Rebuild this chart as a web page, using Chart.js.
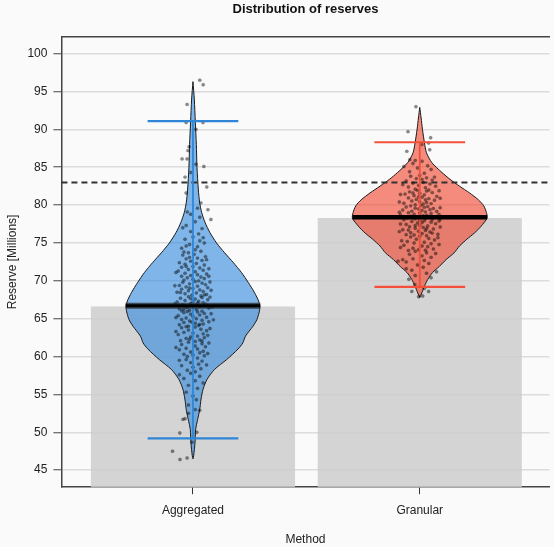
<!DOCTYPE html>
<html>
<head>
<meta charset="utf-8">
<script src="https://cdn.jsdelivr.net/npm/chart.js@4/dist/chart.umd.min.js"></script>
<style>
  html, body { margin: 0; padding: 0; background: #fafafa; }
  #wrap { width: 554px; height: 547px; position: relative; }
</style>
</head>
<body>
<div id="wrap"><canvas id="chart"></canvas></div>
<script>
'use strict';

// ── Data ──────────────────────────────────────────────────────────────────────
const methods    = ['Aggregated', 'Granular'];
const barMeans   = [66.6, 78.3];
const meanLines  = [66.7, 78.4];
const lowerLimit = [49.2, 69.2];
const upperLimit = [91.1, 88.3];
const refLine    = 83.0;
const yTicks     = [45, 50, 55, 60, 65, 70, 75, 80, 85, 90, 95, 100];

// violin outlines: level (Millions) and relative density (1 = widest)
const aggLevels  = [46.5, 46.9, 48.6, 50.4, 51.7, 53.0, 54.4, 55.7, 57.0, 58.3, 59.6, 61.0, 61.8, 62.7,
                    64.0, 64.9, 66.2, 67.2, 68.5, 69.8, 71.1, 72.4, 73.7, 75.0, 76.4, 77.7, 79.0, 80.3,
                    82.0, 85.0, 88.0, 91.0, 94.0, 96.3];
const aggDensity = [0, 0.01, 0.03, 0.04, 0.07, 0.10, 0.12, 0.15, 0.21, 0.32, 0.50, 0.67, 0.74, 0.78,
                    0.89, 0.95, 0.99, 0.98, 0.91, 0.82, 0.72, 0.60, 0.47, 0.35, 0.25, 0.18, 0.13, 0.10,
                    0.08, 0.06, 0.05, 0.035, 0.02, 0];
const granLevels  = [67.8, 68.4, 69.3, 70.2, 71.1, 71.9, 72.8, 73.7, 74.6, 75.5, 76.3, 77.2, 78.3, 79.0,
                     79.9, 80.7, 81.6, 82.5, 83.4, 84.3, 85.6, 86.9, 88.2, 90.0, 91.5, 92.9];
const granDensity = [0, 0.03, 0.07, 0.12, 0.19, 0.29, 0.39, 0.51, 0.59, 0.70, 0.81, 0.91, 1.0, 0.99,
                     0.95, 0.87, 0.74, 0.59, 0.45, 0.33, 0.18, 0.10, 0.07, 0.04, 0.02, 0];

// jittered observations: [value, horizontal jitter in category units]
const aggPoints = [
  [96.5, 0.03], [95.9, 0.045], [93.3, -0.026], [90.9, 0.044], [90.9, -0.03], [90.0, 0.013], [87.7, -0.017],
  [87.2, -0.022], [86.1, -0.048], [86.1, -0.026], [85.4, 0.013], [85.1, 0.048], [84.3, -0.009], [83.7, -0.035],
  [82.4, 0.061], [81.6, -0.03], [80.3, 0.035], [79.4, 0.066], [78.1, 0.079],
  [79.6, 0.02], [78.8, -0.01], [78.4, 0.03], [79.1, -0.025],
  [77.8, 0.01], [77.3, -0.03], [76.9, 0.04], [76.5, -0.01], [76.2, 0.025], [77.0, -0.045],
  [75.8, 0.0], [75.5, -0.035], [75.3, 0.03], [75.0, 0.05], [74.8, -0.015], [74.5, 0.02], [74.3, -0.05],
  [74.1, 0.01], [75.7, 0.045], [74.6, -0.03],
  [73.9, 0.035], [73.7, -0.02], [73.5, 0.005], [73.4, -0.045], [73.2, 0.055], [73.0, 0.02], [72.9, -0.03],
  [72.7, 0.04], [72.6, -0.01], [72.4, -0.06], [72.3, 0.015], [72.1, 0.05], [73.8, -0.04], [73.1, -0.015],
  [72.8, 0.06], [72.2, -0.035],
  [71.9, 0.0], [71.8, -0.05], [71.7, 0.03], [71.5, -0.02], [71.4, 0.045], [71.3, -0.065], [71.2, 0.01],
  [71.0, -0.035], [70.9, 0.06], [70.8, 0.02], [70.7, -0.01], [70.6, -0.05], [70.5, 0.035], [70.4, -0.025],
  [70.3, 0.05], [70.2, 0.0], [70.1, -0.04], [70.0, 0.025], [71.6, 0.07], [71.1, -0.075], [70.6, 0.07], [71.9, -0.03],
  [69.9, 0.01], [69.8, -0.045], [69.7, 0.04], [69.6, -0.015], [69.5, 0.055], [69.4, -0.06], [69.3, 0.02],
  [69.2, -0.03], [69.1, 0.065], [69.0, 0.0], [68.9, -0.05], [68.8, 0.03], [68.7, -0.02], [68.6, 0.045],
  [68.5, -0.07], [68.4, 0.015], [68.3, -0.035], [68.2, 0.06], [68.1, -0.005], [68.0, 0.035], [69.85, 0.075],
  [69.35, -0.08], [68.75, 0.08], [68.45, -0.055], [69.05, -0.015], [68.15, 0.05],
  [67.9, -0.02], [67.8, 0.04], [67.7, -0.055], [67.6, 0.01], [67.5, 0.065], [67.4, -0.035], [67.3, 0.025],
  [67.2, -0.07], [67.1, 0.045], [67.0, -0.01], [66.9, 0.055], [66.8, -0.045], [66.7, 0.0], [66.6, 0.03],
  [66.5, -0.025], [66.4, 0.07], [66.3, -0.06], [66.2, 0.015], [66.1, -0.015], [66.0, 0.04], [67.85, 0.075],
  [67.25, 0.0], [66.95, -0.08], [66.55, 0.085], [66.25, -0.04], [67.65, -0.01], [67.05, 0.02], [66.05, -0.05],
  [65.9, 0.02], [65.8, -0.04], [65.7, 0.05], [65.6, -0.01], [65.5, 0.03], [65.4, -0.065], [65.3, 0.0],
  [65.2, 0.06], [65.1, -0.03], [65.0, 0.015], [64.9, -0.05], [64.8, 0.04], [64.7, -0.015], [64.6, 0.07],
  [64.5, -0.04], [64.4, 0.01], [64.3, 0.045], [64.2, -0.06], [64.1, 0.025], [64.0, -0.02], [65.65, 0.08],
  [65.15, -0.075], [64.85, 0.09], [64.55, -0.005], [64.25, 0.03], [65.95, -0.025],
  [63.9, 0.01], [63.8, -0.05], [63.6, 0.035], [63.5, -0.02], [63.4, 0.06], [63.2, -0.04], [63.1, 0.0],
  [63.0, 0.045], [62.9, -0.065], [62.7, 0.02], [62.6, -0.01], [62.5, 0.05], [62.4, -0.03], [62.2, 0.03],
  [62.1, -0.055], [62.0, 0.01], [63.7, 0.075], [63.3, -0.075], [62.8, 0.065], [62.3, -0.015], [63.95, -0.03],
  [62.05, 0.04],
  [61.9, -0.02], [61.7, 0.04], [61.6, -0.05], [61.4, 0.01], [61.3, 0.055], [61.1, -0.03], [61.0, 0.02],
  [60.9, -0.06], [60.7, 0.045], [60.6, -0.01], [60.5, 0.03], [60.3, -0.04], [60.2, 0.0], [60.1, 0.05],
  [61.8, 0.07], [61.2, -0.075], [60.4, 0.065], [60.0, -0.025],
  [59.8, 0.02], [59.6, -0.03], [59.4, 0.04], [59.2, -0.01], [59.0, 0.025], [58.8, -0.05], [58.6, 0.0],
  [58.4, 0.035], [58.2, -0.025], [58.0, 0.01], [59.5, -0.06], [58.9, 0.06],
  [57.8, -0.01], [57.4, 0.03], [57.1, -0.04], [56.8, 0.01], [56.5, 0.045], [56.2, -0.02], [57.6, -0.06],
  [55.8, 0.02], [55.3, -0.03], [54.8, 0.0], [54.3, 0.015], [53.6, -0.02], [52.9, 0.03], [53.0, 0.01], [52.5, -0.02],
  [51.8, -0.035], [51.7, -0.044], [49.9, -0.058], [50.0, 0.017], [48.7, -0.004], [47.5, -0.09], [46.4, -0.057],
  [46.6, -0.026]
];
const granPoints = [
  [93.0, -0.017], [89.7, -0.052], [88.9, 0.048], [88.2, 0.039], [87.3, 0.044], [87.1, -0.057], [86.0, -0.044],
  [85.1, -0.07], [88.0, 0.009], [70.2, -0.048], [68.6, -0.035], [68.6, 0.039], [68.0, 0.013], [71.2, 0.074],
  [72.6, -0.096], [69.5, -0.022], [67.9, -0.005], [69.0, 0.02],
  [85.8, 0.01], [85.5, -0.03], [85.2, 0.035], [84.9, -0.01], [84.7, 0.05], [84.4, -0.045], [84.2, 0.02], [85.9, -0.02],
  [83.9, 0.0], [83.8, -0.04], [83.6, 0.03], [83.5, -0.015], [83.3, 0.055], [83.2, -0.06], [83.0, 0.015],
  [82.9, -0.03], [82.8, 0.045], [82.6, -0.005], [82.5, 0.07], [82.4, -0.05], [82.3, 0.025], [82.1, -0.02],
  [82.0, 0.04], [83.4, 0.01], [82.7, -0.075], [83.7, 0.065],
  [81.95, -0.01], [81.85, 0.03], [81.75, -0.045], [81.65, 0.055], [81.55, 0.0], [81.45, -0.065], [81.35, 0.02],
  [81.25, -0.025], [81.15, 0.075], [81.05, 0.01], [80.95, -0.05], [80.85, 0.04], [80.75, -0.015], [80.65, 0.065],
  [80.55, -0.035], [80.45, 0.0], [80.35, 0.03], [80.25, -0.07], [80.15, 0.015], [80.05, -0.02], [81.9, 0.085],
  [81.4, -0.085], [80.9, 0.09], [80.4, -0.09], [81.1, -0.005], [80.7, 0.025], [80.2, 0.05], [81.6, -0.03],
  [79.95, 0.005], [79.9, -0.04], [79.8, 0.035], [79.75, -0.06], [79.7, 0.02], [79.6, -0.02], [79.55, 0.06],
  [79.5, -0.005], [79.4, 0.045], [79.35, -0.075], [79.3, 0.01], [79.2, -0.035], [79.15, 0.075], [79.1, 0.025],
  [79.0, -0.05], [78.95, 0.0], [78.9, 0.05], [78.8, -0.025], [78.75, 0.085], [78.7, -0.085], [78.6, 0.015],
  [78.55, -0.04], [78.5, 0.04], [78.45, -0.01], [78.4, 0.065], [78.3, -0.055], [78.25, 0.025], [78.2, -0.02],
  [78.1, 0.055], [78.05, -0.07], [78.0, 0.0], [79.65, 0.09], [79.05, -0.09], [78.65, 0.03], [78.35, -0.03],
  [78.15, 0.09],
  [77.95, 0.02], [77.85, -0.035], [77.75, 0.05], [77.65, -0.01], [77.55, 0.07], [77.45, -0.06], [77.35, 0.0],
  [77.25, 0.035], [77.15, -0.045], [77.05, 0.015], [76.95, -0.02], [76.85, 0.06], [76.75, -0.075], [76.65, 0.025],
  [76.55, -0.005], [76.45, 0.045], [76.35, -0.04], [76.25, 0.01], [76.15, 0.08], [76.05, -0.025], [77.9, 0.085],
  [77.5, -0.085], [77.1, 0.09], [76.7, -0.05], [76.3, 0.055], [77.3, -0.02], [76.9, 0.03], [76.1, -0.06],
  [77.7, 0.01], [76.5, -0.09],
  [75.9, 0.0], [75.8, -0.04], [75.6, 0.04], [75.5, -0.015], [75.4, 0.065], [75.2, -0.055], [75.1, 0.02],
  [75.0, -0.025], [74.9, 0.05], [74.7, -0.07], [74.6, 0.01], [74.5, 0.035], [74.3, -0.03], [74.2, 0.06],
  [74.1, -0.005], [74.0, -0.05], [75.7, 0.08], [75.3, -0.08], [74.8, 0.085], [74.4, -0.085], [75.95, 0.03],
  [74.05, 0.025],
  [73.9, -0.02], [73.7, 0.03], [73.5, -0.045], [73.3, 0.01], [73.1, 0.05], [72.9, -0.03], [72.7, 0.02],
  [72.5, -0.06], [72.3, 0.04], [72.1, -0.01], [73.6, 0.07], [72.8, -0.075],
  [71.8, 0.015], [71.4, -0.035], [71.0, 0.03], [70.7, -0.02], [70.4, 0.05], [71.6, -0.06]
];

// ── Styling ───────────────────────────────────────────────────────────────────
const X_MIN = -0.58, X_MAX = 1.572;
const Y_MIN = 42.75, Y_MAX = 102.25;
const VIOLIN_HALF = 0.297;   // widest violin half-width, category units
const CAP_HALF    = 0.2;
const FONT        = '"Liberation Sans", Arial, Helvetica, sans-serif';

const groupStyle = [
  { fill: 'rgba(45, 135, 220, 0.6)', bar: '#2f86d6', halo: 'rgba(40,40,40,0.75)' },
  { fill: 'rgba(240, 65, 40, 0.6)',  bar: '#f2503a', halo: null }
];

// ── Datasets ──────────────────────────────────────────────────────────────────
function violinShape(center, levels, density) {
  const left  = levels.map((v, i) => ({ x: center - VIOLIN_HALF * density[i], y: v }));
  const right = levels.map((v, i) => ({ x: center + VIOLIN_HALF * density[i], y: v })).reverse();
  return left.concat(right);
}

function lineSet(data, color, width, order, extra) {
  return Object.assign({
    type: 'scatter', data, showLine: true, borderColor: color, borderWidth: width,
    pointRadius: 0, fill: false, order, tension: 0
  }, extra || {});
}

const datasets = [];

datasets.push({
  type: 'bar',
  data: methods.map((m, i) => ({ x: i, y: barMeans[i] })),
  backgroundColor: 'rgba(205, 205, 205, 0.85)',
  barPercentage: 0.9, categoryPercentage: 1.0,
  order: 10
});

const profiles = [[aggLevels, aggDensity], [granLevels, granDensity]];
const points   = [aggPoints, granPoints];

profiles.forEach(([lv, dn], i) => {
  datasets.push(lineSet(violinShape(i, lv, dn), '#1a1a1a', 1, 9, {
    fill: 'shape', backgroundColor: groupStyle[i].fill, tension: 0.25
  }));
});

datasets.push(lineSet([{ x: X_MIN, y: refLine }, { x: X_MAX, y: refLine }], '#333', 2, 8,
  { borderDash: [6, 4] }));

points.forEach((pts, i) => {
  datasets.push({
    type: 'scatter',
    data: pts.map(([v, j]) => ({ x: i + j, y: v })),
    pointRadius: 1.7, pointBackgroundColor: 'rgba(0,0,0,0.45)',
    pointBorderColor: 'rgba(0,0,0,0.2)', pointBorderWidth: 0.5,
    order: 7
  });
});

methods.forEach((m, i) => {
  const st = groupStyle[i];
  const meanSeg = [{ x: i - VIOLIN_HALF, y: meanLines[i] }, { x: i + VIOLIN_HALF, y: meanLines[i] }];
  datasets.push(lineSet([{ x: i, y: lowerLimit[i] }, { x: i, y: upperLimit[i] }], st.bar, 1.8, 6));
  datasets.push(lineSet([{ x: i - CAP_HALF, y: lowerLimit[i] }, { x: i + CAP_HALF, y: lowerLimit[i] }], st.bar, 2.2, 6));
  datasets.push(lineSet([{ x: i - CAP_HALF, y: upperLimit[i] }, { x: i + CAP_HALF, y: upperLimit[i] }], st.bar, 2.2, 6));
  if (st.halo) datasets.push(lineSet(meanSeg, st.halo, 6, 5.5));
  datasets.push(lineSet(meanSeg, '#000', st.halo ? 3 : 4.5, 5));
});

// ── Chart ─────────────────────────────────────────────────────────────────────
new Chart(document.getElementById('chart'), {
  data: { datasets },
  options: {
    responsive: true,
    maintainAspectRatio: false,
    animation: false,
    layout: { padding: 0 },
    plugins: {
      legend: { display: false },
      tooltip: { enabled: false },
      title: {
        display: true, text: 'Distribution of reserves', fullSize: false,
        color: '#111', font: { family: FONT, size: 13, weight: 'bold' },
        padding: { top: 2, bottom: 19 }
      }
    },
    scales: {
      x: {
        type: 'linear', position: 'bottom', min: X_MIN, max: X_MAX,
        offset: false,
        afterBuildTicks: s => { s.ticks = methods.map((m, i) => ({ value: i })); },
        ticks: {
          callback: v => methods[v], color: '#222', padding: 9,
          font: { family: FONT, size: 12 }, maxRotation: 0
        },
        grid: { offset: false, drawOnChartArea: false, drawTicks: true, tickLength: 7, tickColor: '#333', tickWidth: 1 },
        border: { color: '#444', width: 1.5 },
        title: {
          display: true, text: 'Method', color: '#222',
          font: { family: FONT, size: 12 }, padding: { top: 6, bottom: 0 }
        }
      },
      x2: {
        type: 'linear', position: 'top', display: true, offset: false,
        ticks: { display: false },
        grid: { display: false, drawTicks: false },
        border: { display: true, color: '#444', width: 1.5 }
      },
      y: {
        type: 'linear', min: Y_MIN, max: Y_MAX,
        afterBuildTicks: s => { s.ticks = yTicks.map(v => ({ value: v })); },
        ticks: { color: '#222', padding: 6, font: { family: FONT, size: 12 } },
        grid: { color: '#dcdcdc', lineWidth: 1.5, tickLength: 8, tickColor: '#444', tickWidth: 1 },
        border: { color: '#444', width: 1.5 },
        title: {
          display: true, text: 'Reserve [Millions]', color: '#222',
          font: { family: FONT, size: 12 }, padding: { top: 5, bottom: 2 }
        }
      }
    }
  }
});
</script>
</body>
</html>
